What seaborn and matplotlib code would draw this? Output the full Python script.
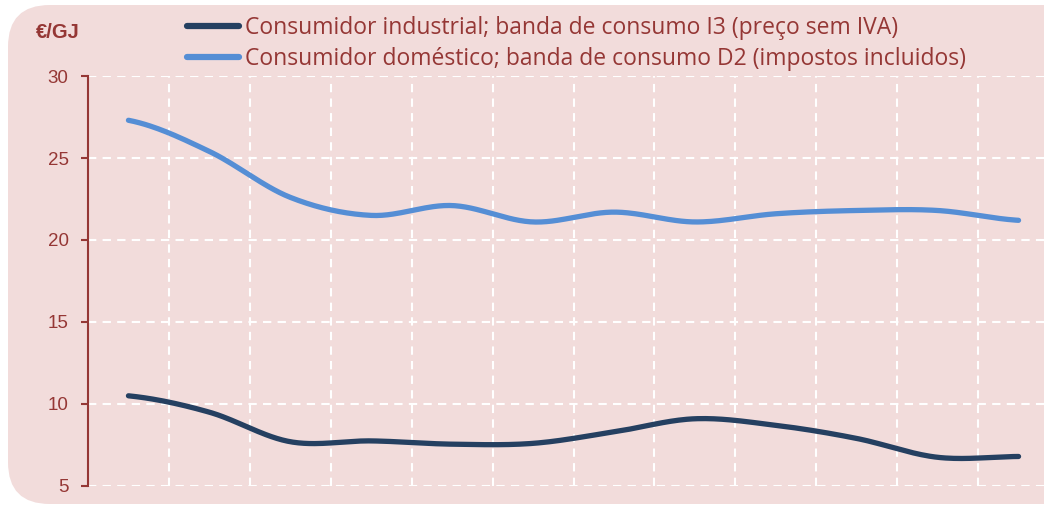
import numpy as np
import pandas as pd
import matplotlib
matplotlib.use('Agg')
import matplotlib.pyplot as plt
from matplotlib.patches import FancyBboxPatch
import seaborn as sns

# valores (12 períodos, sem rótulos no eixo x)
periodos = list(range(12))
industrial = [10.5, 9.5, 7.7, 7.75, 7.55, 7.6, 8.3, 9.1, 8.7, 7.9, 6.75, 6.8]
domestico = [27.3, 25.4, 22.6, 21.5, 22.1, 21.1, 21.7, 21.1, 21.6, 21.8, 21.8, 21.2]
nome_ind = 'Consumidor industrial; banda de consumo I3 (preço sem IVA)'
nome_dom = 'Consumidor doméstico; banda de consumo D2 (impostos incluidos)'

cor_ind = '#254061'
cor_dom = '#558ED5'
vermelho = '#953735'
rosa = '#F2DCDB'


def suavizar(xs, ys, n=30):
    # curva suave tipo Excel (Catmull-Rom) só para desenhar
    xs = np.asarray(xs, float)
    ys = np.asarray(ys, float)
    px = np.concatenate([[2 * xs[0] - xs[1]], xs, [2 * xs[-1] - xs[-2]]])
    py = np.concatenate([[ys[0]], ys, [ys[-1]]])
    ox, oy = [], []
    for i in range(1, len(px) - 2):
        t = np.linspace(0, 1, n, endpoint=False)
        for p, out in ((px, ox), (py, oy)):
            p0, p1, p2, p3 = p[i - 1], p[i], p[i + 1], p[i + 2]
            out.extend(0.5 * (2 * p1 + (-p0 + p2) * t
                              + (2 * p0 - 5 * p1 + 4 * p2 - p3) * t ** 2
                              + (-p0 + 3 * p1 - 3 * p2 + p3) * t ** 3))
    ox.append(xs[-1])
    oy.append(ys[-1])
    return ox, oy


frames = []
for nome, vals in ((nome_ind, industrial), (nome_dom, domestico)):
    sx, sy = suavizar(periodos, vals)
    frames.append(pd.DataFrame({'x': sx, 'valor': sy, 'serie': nome}))
df = pd.concat(frames, ignore_index=True)

sns.set_style('white')
plt.rcParams['font.family'] = ['Liberation Sans', 'DejaVu Sans']

fig = plt.figure(figsize=(10.44, 5.07), dpi=100, facecolor='white')
W, H = 1044, 507
fundo = FancyBboxPatch((8 / W, 3 / H), 1.2, (H - 8) / H,
                       boxstyle='round,pad=0,rounding_size=0.04',
                       transform=fig.transFigure, facecolor=rosa,
                       edgecolor='none', zorder=-5, mutation_aspect=W / H)
fig.patches.append(fundo)

ax = fig.add_axes([88 / W, 1 - 486 / H, 971 / W, 410 / H])
ax.set_facecolor('none')
ax.set_zorder(2)

sns.lineplot(data=df, x='x', y='valor', hue='serie', hue_order=[nome_ind, nome_dom],
             palette=[cor_ind, cor_dom], estimator=None, sort=False,
             linewidth=3.8, ax=ax, legend=True)
for ln in ax.get_lines():
    ln.set_solid_capstyle('round')

ax.set_xlim(-0.5, 11.5)
ax.set_ylim(5, 30)
ax.set_yticks([5, 10, 15, 20, 25, 30])
ax.set_xticks(np.arange(0.5, 11.6, 1))
ax.set_xticklabels([])
ax.tick_params(axis='x', length=0)
ax.tick_params(axis='y', colors=vermelho, labelsize=13.5, length=5, width=1.5,
               direction='out', pad=9, left=True)
ax.grid(True, color='white', linestyle=(0, (4, 3)), linewidth=1.5)
ax.set_xlabel('')
ax.set_ylabel('')
for s in ('top', 'right', 'bottom'):
    ax.spines[s].set_visible(False)
ax.spines['left'].set_color(vermelho)
ax.spines['left'].set_linewidth(1.5)

fig.text(36 / W, 1 - 33 / H, '€/GJ', color=vermelho, fontsize=14.5,
         fontweight='bold', va='center', ha='left')

handles, labels = ax.get_legend_handles_labels()
ax.get_legend().remove()
leg = ax.legend(handles, labels, loc='upper left',
                bbox_to_anchor=(187 / W, 1 - 16 / H), bbox_transform=fig.transFigure,
                frameon=False, handlelength=2.25, handletextpad=0.26,
                labelspacing=0.3, borderaxespad=0, borderpad=0,
                prop={'family': 'Open Sans', 'size': 16.5}, labelcolor=vermelho)
for h in leg.get_lines():
    h.set_linewidth(4.5)
    h.set_solid_capstyle('round')

fig.savefig('out.png', dpi=100, facecolor='white')
